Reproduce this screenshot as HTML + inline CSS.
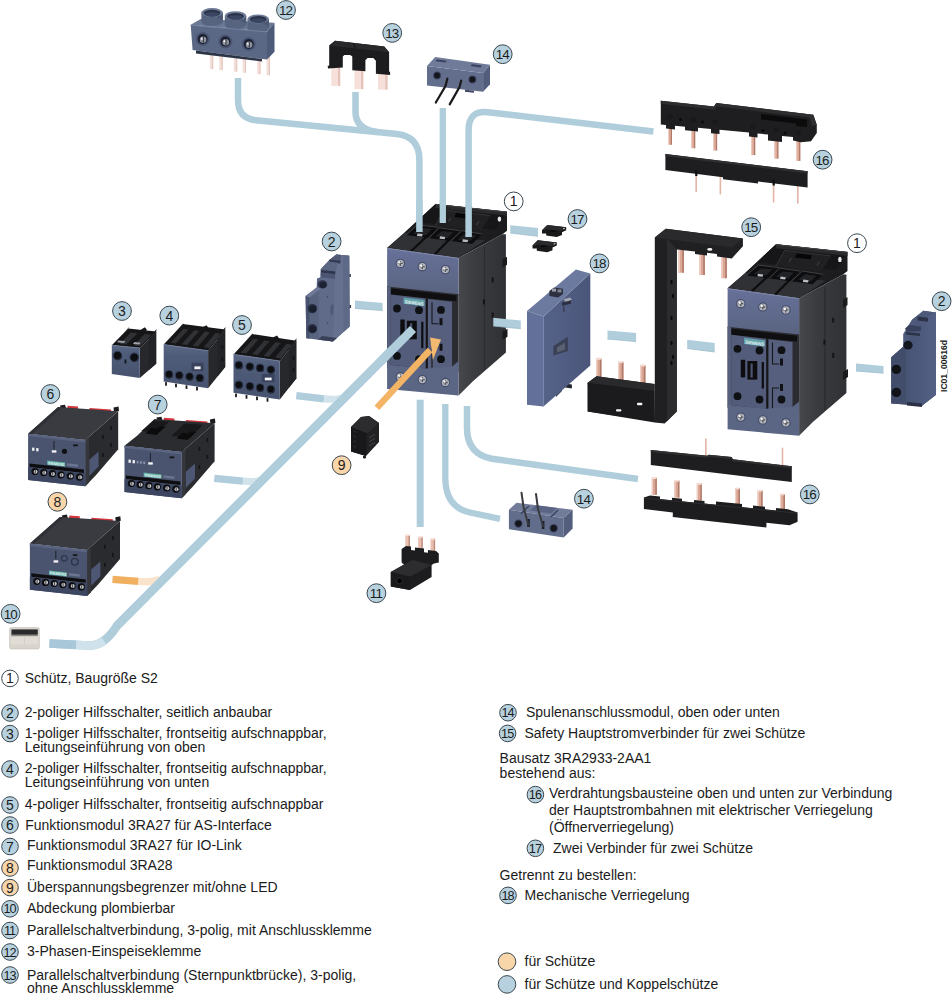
<!DOCTYPE html>
<html lang="de"><head><meta charset="utf-8"><title>Schütz S2 Zubehör</title>
<style>
html,body{margin:0;padding:0;background:#fff;}
svg{display:block;}
svg text{font-family:"Liberation Sans", Arial, sans-serif;}
svg text.lg{font-size:14px;fill:#1b1b1b;}
</style></head><body>
<svg width="952" height="1000" viewBox="0 0 952 1000">
<defs>
<g id="contactor">
<polygon points="727.6,288.3 745.2,272.9 776.0,244.3 847.5,252.0 847.5,271.0 843.0,274.5 799.1,298.2" fill="#1c1c1e" />
<polygon points="727.6,288.3 745.2,272.9 826.0,280.5 799.1,298.2" fill="#303135" />
<polyline points="751.5,291.5 768.0,276.0" fill="none" stroke="#0d0d0e" stroke-width="2.2" />
<polyline points="775.0,294.8 791.0,278.5" fill="none" stroke="#0d0d0e" stroke-width="2.2" />
<polygon points="745.2,272.9 757.0,262.0 836.0,270.0 826.0,280.5" fill="#1d1d20" />
<polygon points="757.0,262.0 776.0,244.3 847.5,252.0 836.0,270.0" fill="#161618" />
<polygon points="776.0,244.3 847.5,252.0 847.5,256.0 776.0,248.3" fill="#2a2a2d" />
<polyline points="776.0,244.6 847.5,252.3" fill="none" stroke="#47474b" stroke-width="0.9" />
<polygon points="784.7,250.4 831.0,255.9 821.5,271.0 775.9,265.9" fill="#202023" />
<polyline points="775.9,265.9 784.7,250.4 831.0,255.9" fill="none" stroke="#3a3a3e" stroke-width="0.8" />
<polygon points="796.5,253.4 811.9,255.3 810.4,259.3 795.0,257.4" fill="#060607" />
<polyline points="789.0,262.0 791.5,258.0" fill="none" stroke="#39393d" stroke-width="1.4" />
<polyline points="817.0,265.5 819.5,261.5" fill="none" stroke="#39393d" stroke-width="1.4" />
<polygon points="746.5,275.4 758.2,265.1 778.8,267.6 768.5,278.4" fill="#0d0d0f" />
<polyline points="746.5,275.4 758.2,265.1 778.8,267.6" fill="none" stroke="#404044" stroke-width="1.0" />
<polygon points="753.6,273.7 760.8,268.4 772.3,269.2 766.2,275.5" fill="#222326" />
<polygon points="769.3,278.4 779.6,268.1 800.1,271.0 790.6,281.3" fill="#0d0d0f" />
<polyline points="769.3,278.4 779.6,268.1 800.1,271.0" fill="none" stroke="#404044" stroke-width="1.0" />
<polygon points="776.1,276.8 782.4,271.4 793.9,272.5 788.2,278.4" fill="#222326" />
<polygon points="791.3,281.3 802.4,271.0 822.9,274.4 812.6,284.3" fill="#0d0d0f" />
<polyline points="791.3,281.3 802.4,271.0 822.9,274.4" fill="none" stroke="#404044" stroke-width="1.0" />
<polygon points="798.3,279.8 805.0,274.3 816.6,275.8 810.4,281.4" fill="#222326" />
<polygon points="758.0,273.8 763.2,274.4 762.6,276.8 757.4,276.2" fill="#b9bbc0" />
<polygon points="780.6,276.6 785.8,277.2 785.2,279.6 780.0,279.0" fill="#b9bbc0" />
<polygon points="803.4,279.6 808.6,280.2 808.0,282.6 802.8,282.0" fill="#b9bbc0" />
<ellipse cx="839.9" cy="259.4" rx="1.8" ry="2.7" fill="#e8e8ea" />
<linearGradient id="sideg" x1="0" x2="1" y1="0" y2="0"><stop offset="0" stop-color="#47484c"/><stop offset="0.35" stop-color="#3b3c40"/><stop offset="1" stop-color="#303134"/></linearGradient>
<polygon points="799.1,298.2 843.0,274.5 846.4,274.5 846.4,392.9 813.4,421.5 799.1,435.8" fill="url(#sideg)" />
<polyline points="825.0,287.0 825.0,410.0" fill="none" stroke="#2a2b2e" stroke-width="1.2" />
<rect x="832.2" y="317.7" width="2.0" height="5.0" fill="#151517" />
<rect x="823.4" y="339.7" width="2.0" height="5.0" fill="#151517" />
<rect x="832.2" y="352.9" width="2.0" height="5.0" fill="#151517" />
<polygon points="843.0,300.0 847.5,297.0 847.5,305.0 843.0,308.0" fill="#1a1a1c" />
<polygon points="843.0,372.0 848.0,369.0 848.0,377.0 843.0,380.0" fill="#1a1a1c" />
<linearGradient id="faceg" x1="0" x2="0" y1="0" y2="1"><stop offset="0" stop-color="#67719a"/><stop offset="1" stop-color="#59637f"/></linearGradient>
<polygon points="727.6,288.3 799.1,298.2 799.1,335.8 727.6,328.2" fill="url(#faceg)" />
<polyline points="727.6,288.8 799.1,298.7" fill="none" stroke="#7d87a6" stroke-width="1.0" />
<polygon points="727.6,326.8 799.1,334.5 799.1,412.0 727.6,408.0" fill="#2b2c31" />
<polygon points="731.0,328.6 797.0,335.8 797.0,341.5 731.0,334.8" fill="#0f0f11" />
<polygon points="727.6,326.8 731.2,327.2 731.2,406.0 727.6,406.0" fill="#56607c" />
<polygon points="731.2,334.8 766.1,338.9 766.1,409.0 731.2,405.0" fill="#535d7b" />
<polygon points="768.5,339.2 792.5,342.0 792.5,407.0 768.5,409.3" fill="#56607e" />
<polyline points="767.3,339.0 767.3,409.5" fill="none" stroke="#16171a" stroke-width="1.6" />
<polygon points="744.1,337.8 765.0,340.4 765.0,346.6 744.1,344.0" fill="#62a3ab" />
<text x="745" y="343.6" font-family="Liberation Sans, sans-serif" font-weight="bold" font-size="4.6" fill="#e9f4f5" transform="rotate(7 745 343.6)" textLength="19" lengthAdjust="spacingAndGlyphs">SIEMENS</text>
<circle cx="737.5" cy="348.8" r="3.9" fill="#101114" />
<circle cx="759.5" cy="350.5" r="3.9" fill="#101114" />
<circle cx="737.5" cy="396.2" r="3.9" fill="#101114" />
<circle cx="759.5" cy="399.5" r="3.9" fill="#101114" />
<circle cx="781.5" cy="350.2" r="3.9" fill="#101114" />
<circle cx="781.5" cy="399.5" r="3.9" fill="#101114" />
<rect x="740.8" y="359.8" width="4.4" height="17.6" fill="#0d0d0f" />
<rect x="747.4" y="361.0" width="9.9" height="18.6" fill="#0d0d0f" />
<rect x="750.5" y="363.5" width="2.2" height="14.0" fill="#4a5370" />
<rect x="761.7" y="362.0" width="2.2" height="26.5" fill="#0d0d0f" />
<path d="M772.5 342.5 V364 H779" fill="none" stroke="#15161a" stroke-width="1.1" />
<rect x="780.0" y="358.5" width="3.0" height="7.0" fill="#111216" />
<path d="M772.5 408 V388 H779" fill="none" stroke="#15161a" stroke-width="1.1" />
<rect x="780.0" y="384.0" width="3.0" height="7.0" fill="#111216" />
<polygon points="727.6,404.7 766.1,408.7 793.0,406.6 799.1,401.4 799.1,435.8 727.6,429.2" fill="#5b6584" />
<circle cx="740.8" cy="303.7" r="4.7" fill="#434b67" />
<circle cx="740.8" cy="303.7" r="3.6" fill="#b4b6bd" />
<path d="M738.3 303.7 L743.3 303.7 M740.8 301.2 L740.8 306.2" stroke="#55585f" stroke-width="1.3" fill="none"/>
<circle cx="739.8" cy="302.7" r="1.2" fill="#f4f4f4" />
<circle cx="762.8" cy="307.0" r="4.7" fill="#434b67" />
<circle cx="762.8" cy="307.0" r="3.6" fill="#b4b6bd" />
<path d="M760.3 307.0 L765.3 307.0 M762.8 304.5 L762.8 309.5" stroke="#55585f" stroke-width="1.3" fill="none"/>
<circle cx="761.8" cy="306.0" r="1.2" fill="#f4f4f4" />
<circle cx="785.9" cy="309.9" r="4.7" fill="#434b67" />
<circle cx="785.9" cy="309.9" r="3.6" fill="#b4b6bd" />
<path d="M783.4 309.9 L788.4 309.9 M785.9 307.4 L785.9 312.4" stroke="#55585f" stroke-width="1.3" fill="none"/>
<circle cx="784.9" cy="308.9" r="1.2" fill="#f4f4f4" />
<circle cx="740.8" cy="417.1" r="4.7" fill="#434b67" />
<circle cx="740.8" cy="417.1" r="3.6" fill="#b4b6bd" />
<path d="M738.3 417.1 L743.3 417.1 M740.8 414.6 L740.8 419.6" stroke="#55585f" stroke-width="1.3" fill="none"/>
<circle cx="739.8" cy="416.1" r="1.2" fill="#f4f4f4" />
<circle cx="762.8" cy="419.9" r="4.7" fill="#434b67" />
<circle cx="762.8" cy="419.9" r="3.6" fill="#b4b6bd" />
<path d="M760.3 419.9 L765.3 419.9 M762.8 417.4 L762.8 422.4" stroke="#55585f" stroke-width="1.3" fill="none"/>
<circle cx="761.8" cy="418.9" r="1.2" fill="#f4f4f4" />
<circle cx="785.9" cy="422.8" r="4.7" fill="#434b67" />
<circle cx="785.9" cy="422.8" r="3.6" fill="#b4b6bd" />
<path d="M783.4 422.8 L788.4 422.8 M785.9 420.3 L785.9 425.3" stroke="#55585f" stroke-width="1.3" fill="none"/>
<circle cx="784.9" cy="421.8" r="1.2" fill="#f4f4f4" />
</g>
</defs>
<path d="M238,78 L238,100 Q238,118.5 256,120.2 L397,134 Q419.4,136.5 419.4,160 L419.4,232" fill="none" stroke="#afcddb" stroke-width="6.5" stroke-linejoin="round" />
<path d="M355.5,92 L355.5,112 Q355.5,129 377,132" fill="none" stroke="#afcddb" stroke-width="6.5" stroke-linejoin="round" />
<path d="M442.8,108 L442.8,223" fill="none" stroke="#afcddb" stroke-width="6.3" stroke-linejoin="round" />
<path d="M468.6,237 L468.6,130 Q468.6,110 488,112.2 L653.4,131.4" fill="none" stroke="#afcddb" stroke-width="6.5" stroke-linejoin="round" />
<path d="M420.2,399.7 L420.2,527" fill="none" stroke="#afcddb" stroke-width="7.0" stroke-linejoin="round" />
<path d="M445.3,404 L445.3,478 Q445.3,507 470,512.5 L500,518.8" fill="none" stroke="#afcddb" stroke-width="6.3" stroke-linejoin="round" />
<path d="M467,406 L467,428 Q467,454 492,458.8 L638,479" fill="none" stroke="#afcddb" stroke-width="6.5" stroke-linejoin="round" />
<path d="M49.5,643.5 L88,645.5 Q104,646.5 117,625.7 L413,329" fill="none" stroke="#afcddb" stroke-width="8.6" stroke-linejoin="round" />
<path d="M76,644.9 L88,645.5 Q97,646 104,641" fill="none" stroke="#cfe1ea" stroke-width="8.6" />
<path d="M49.5,643.5 L76,644.9" fill="none" stroke="#a8c7d8" stroke-width="8.6" />
<path d="M214.3,478.3 L243,481.2" fill="none" stroke="#afcddb" stroke-width="7.2" stroke-linejoin="round" />
<path d="M243,481.2 Q256,482.5 263,479.5" fill="none" stroke="#d2e3eb" stroke-width="7.2" stroke-linejoin="round" />
<path d="M296.3,395.7 L324,398.8" fill="none" stroke="#afcddb" stroke-width="7.2" stroke-linejoin="round" />
<path d="M324,398.8 Q338,400.2 345,397.2" fill="none" stroke="#d2e3eb" stroke-width="7.2" stroke-linejoin="round" />
<path d="M112.5,579.4 L138.5,581.4" fill="none" stroke="#f1b060" stroke-width="7.4" stroke-linejoin="round" />
<path d="M138.5,581.4 Q152,582.6 160,579.5" fill="none" stroke="#f9e3cb" stroke-width="7.4" stroke-linejoin="round" />
<path d="M117,625.7 L413,329" fill="none" stroke="#afcddb" stroke-width="8.6" stroke-linejoin="round" />
<polygon points="355.0,300.6 382.6,303.0 382.6,310.5 355.0,308.5" fill="#afcddb" />
<polyline points="355.0,308.5 382.6,310.5" fill="none" stroke="#9dbccb" stroke-width="0.8" />
<polygon points="510.3,225.3 538.0,228.0 538.0,236.3 510.3,233.0" fill="#afcddb" />
<polyline points="510.3,233.0 538.0,236.3" fill="none" stroke="#9dbccb" stroke-width="0.8" />
<polygon points="607.5,330.6 636.1,333.0 636.1,341.6 607.5,339.0" fill="#afcddb" />
<polyline points="607.5,339.0 636.1,341.6" fill="none" stroke="#9dbccb" stroke-width="0.8" />
<polygon points="687.2,339.8 714.7,343.0 714.7,352.0 687.2,348.5" fill="#afcddb" />
<polyline points="687.2,348.5 714.7,352.0" fill="none" stroke="#9dbccb" stroke-width="0.8" />
<polygon points="856.0,363.6 883.5,366.0 883.5,373.2 856.0,371.0" fill="#afcddb" />
<polyline points="856.0,371.0 883.5,373.2" fill="none" stroke="#9dbccb" stroke-width="0.8" />
<rect x="209.8" y="50.1" width="3.4" height="19.0" fill="#f3dfd9" />
<rect x="212.2" y="50.1" width="1.0" height="19.0" fill="#e3c3ba" />
<rect x="219.3" y="51.2" width="3.4" height="18.9" fill="#f3dfd9" />
<rect x="221.7" y="51.2" width="1.0" height="18.9" fill="#e3c3ba" />
<rect x="233.8" y="52.9" width="3.4" height="18.8" fill="#f3dfd9" />
<rect x="236.2" y="52.9" width="1.0" height="18.8" fill="#e3c3ba" />
<rect x="242.6" y="54.0" width="3.4" height="18.7" fill="#f3dfd9" />
<rect x="245.0" y="54.0" width="1.0" height="18.7" fill="#e3c3ba" />
<rect x="257.1" y="55.7" width="3.4" height="18.5" fill="#f3dfd9" />
<rect x="259.5" y="55.7" width="1.0" height="18.5" fill="#e3c3ba" />
<rect x="266.5" y="56.9" width="3.4" height="18.4" fill="#f3dfd9" />
<rect x="268.9" y="56.9" width="1.0" height="18.4" fill="#e3c3ba" />
<polygon points="190.7,24.8 200.8,18.9 274.5,22.7 267.0,31.5" fill="#6a7893" />
<polygon points="201.4,12.6 222.8,12.6 222.8,21.6 201.4,21.6" fill="#57647f" />
<polygon points="217.1,12.6 222.8,12.6 222.8,21.6 217.1,21.6" fill="#4b5773" />
<ellipse cx="212.1" cy="21.6" rx="10.7" ry="4.4" fill="#57647f" />
<ellipse cx="212.1" cy="12.6" rx="10.7" ry="4.5" fill="#6e7b97" />
<ellipse cx="212.1" cy="13.1" rx="8.4" ry="3.3" fill="#2b3449" />
<ellipse cx="212.1" cy="14.2" rx="7.2" ry="2.2" fill="#3a4561" />
<polygon points="224.8,15.8 246.2,15.8 246.2,24.8 224.8,24.8" fill="#57647f" />
<polygon points="240.5,15.8 246.2,15.8 246.2,24.8 240.5,24.8" fill="#4b5773" />
<ellipse cx="235.5" cy="24.8" rx="10.7" ry="4.4" fill="#57647f" />
<ellipse cx="235.5" cy="15.8" rx="10.7" ry="4.5" fill="#6e7b97" />
<ellipse cx="235.5" cy="16.3" rx="8.4" ry="3.3" fill="#2b3449" />
<ellipse cx="235.5" cy="17.4" rx="7.2" ry="2.2" fill="#3a4561" />
<polygon points="247.5,18.9 268.9,18.9 268.9,27.9 247.5,27.9" fill="#57647f" />
<polygon points="263.2,18.9 268.9,18.9 268.9,27.9 263.2,27.9" fill="#4b5773" />
<ellipse cx="258.2" cy="27.9" rx="10.7" ry="4.4" fill="#57647f" />
<ellipse cx="258.2" cy="18.9" rx="10.7" ry="4.5" fill="#6e7b97" />
<ellipse cx="258.2" cy="19.4" rx="8.4" ry="3.3" fill="#2b3449" />
<ellipse cx="258.2" cy="20.5" rx="7.2" ry="2.2" fill="#3a4561" />
<polygon points="190.7,24.8 267.0,31.5 267.0,59.6 192.6,50.0" fill="#5a6885" />
<polyline points="190.7,25.2 267.0,31.9" fill="none" stroke="#7280a0" stroke-width="1.0" />
<polygon points="267.0,31.5 274.5,22.7 274.5,51.7 267.0,59.6" fill="#4e5b78" />
<polygon points="196.0,50.6 262.0,59.0 262.0,61.5 196.0,53.5" fill="#2c3447" />
<circle cx="202.7" cy="39.1" r="7.0" fill="#4a5674" />
<circle cx="202.7" cy="39.1" r="5.0" fill="#1a2030" />
<circle cx="203.1" cy="39.7" r="3.3" fill="#8f939f" />
<circle cx="202.1" cy="38.8" r="1.3" fill="#e8e9ee" />
<polyline points="203.3,36.5 203.3,42.7" fill="none" stroke="#30343f" stroke-width="1.1" />
<circle cx="225.4" cy="41.6" r="7.0" fill="#4a5674" />
<circle cx="225.4" cy="41.6" r="5.0" fill="#1a2030" />
<circle cx="225.8" cy="42.2" r="3.3" fill="#8f939f" />
<circle cx="224.8" cy="41.3" r="1.3" fill="#e8e9ee" />
<polyline points="226.0,39.0 226.0,45.2" fill="none" stroke="#30343f" stroke-width="1.1" />
<circle cx="248.7" cy="44.1" r="7.0" fill="#4a5674" />
<circle cx="248.7" cy="44.1" r="5.0" fill="#1a2030" />
<circle cx="249.1" cy="44.7" r="3.3" fill="#8f939f" />
<circle cx="248.1" cy="43.8" r="1.3" fill="#e8e9ee" />
<polyline points="249.3,41.5 249.3,47.7" fill="none" stroke="#30343f" stroke-width="1.1" />
<rect x="331.3" y="62.0" width="8.9" height="23.9" fill="#f6e0d9" />
<rect x="338.0" y="62.0" width="2.2" height="23.9" fill="#e6c3ba" />
<rect x="354.4" y="65.0" width="8.9" height="24.1" fill="#f6e0d9" />
<rect x="361.1" y="65.0" width="2.2" height="24.1" fill="#e6c3ba" />
<rect x="378.0" y="68.0" width="9.5" height="21.6" fill="#f6e0d9" />
<rect x="385.3" y="68.0" width="2.2" height="21.6" fill="#e6c3ba" />
<polygon points="329.2,45.5 335.0,40.8 384.3,46.5 389.1,52.3 389.1,71.2 390.1,72.3 390.1,74.9 375.9,73.8 375.9,60.7 373.3,58.1 367.5,58.1 365.4,60.2 365.4,71.2 352.3,70.2 352.3,56.5 350.2,54.9 344.4,54.9 342.8,56.5 342.8,67.5 328.1,68.6 327.6,66.0 329.2,65.4" fill="#1c1c1e" />
<polygon points="329.2,45.5 335.0,40.8 384.3,46.5 389.1,52.3 336.0,46.2" fill="#29292c" />
<polyline points="353.5,43.0 355.5,48.5" fill="none" stroke="#0a0a0a" stroke-width="0.8" />
<polygon points="427.0,65.9 483.1,72.9 483.1,91.8 427.0,85.5" fill="#636e8d" />
<polygon points="427.0,65.9 435.2,57.1 490.0,64.7 483.1,72.9" fill="#707b99" />
<polygon points="483.1,72.9 490.0,64.7 490.0,84.2 483.1,91.8" fill="#525c7b" />
<polygon points="437.0,59.5 447.0,60.8 445.5,62.6 435.5,61.3" fill="#3a4260" />
<polygon points="472.0,64.3 482.0,65.6 480.5,67.4 470.5,66.1" fill="#3a4260" />
<circle cx="437.1" cy="75.4" r="4.0" fill="#3b4360" />
<circle cx="437.1" cy="75.4" r="2.9" fill="#14161c" />
<circle cx="472.4" cy="79.4" r="4.0" fill="#3b4360" />
<circle cx="472.4" cy="79.4" r="2.9" fill="#14161c" />
<polygon points="465.0,89.8 474.0,90.8 474.0,92.8 465.0,91.8" fill="#3c4562" />
<path d="M447.4 78.5 L445.5 86 L435.8 102.5" fill="none" stroke="#1a1a1c" stroke-width="2.2" stroke-linecap="round"/>
<path d="M461.2 80.5 L459.5 87 L449.7 104.4" fill="none" stroke="#1a1a1c" stroke-width="2.2" stroke-linecap="round"/>
<rect x="668.0" y="114.7" width="4.0" height="30.0" fill="#dba796" />
<rect x="670.8" y="114.7" width="1.2" height="30.0" fill="#b07a6a" />
<rect x="668.0" y="114.7" width="1.0" height="30.0" fill="#f0cfc4" />
<rect x="691.2" y="118.2" width="4.0" height="30.0" fill="#dba796" />
<rect x="694.0" y="118.2" width="1.2" height="30.0" fill="#b07a6a" />
<rect x="691.2" y="118.2" width="1.0" height="30.0" fill="#f0cfc4" />
<rect x="713.1" y="120.5" width="4.0" height="30.0" fill="#dba796" />
<rect x="715.9" y="120.5" width="1.2" height="30.0" fill="#b07a6a" />
<rect x="713.1" y="120.5" width="1.0" height="30.0" fill="#f0cfc4" />
<rect x="751.2" y="125.1" width="4.0" height="30.0" fill="#dba796" />
<rect x="754.0" y="125.1" width="1.2" height="30.0" fill="#b07a6a" />
<rect x="751.2" y="125.1" width="1.0" height="30.0" fill="#f0cfc4" />
<rect x="774.4" y="128.6" width="4.0" height="30.0" fill="#dba796" />
<rect x="777.2" y="128.6" width="1.2" height="30.0" fill="#b07a6a" />
<rect x="774.4" y="128.6" width="1.0" height="30.0" fill="#f0cfc4" />
<rect x="796.3" y="130.9" width="4.0" height="30.0" fill="#dba796" />
<rect x="799.1" y="130.9" width="1.2" height="30.0" fill="#b07a6a" />
<rect x="796.3" y="130.9" width="1.0" height="30.0" fill="#f0cfc4" />
<polygon points="660.8,100.8 713.9,106.6 716.3,103.1 813.3,114.7 816.8,125.0 816.8,133.0 811.0,141.2 801.0,142.2 793.0,140.5 793.0,137.0 782.0,136.0 782.0,142.0 768.0,140.6 768.0,134.5 757.5,133.5 757.5,137.5 749.0,136.6 749.0,132.6 719.5,129.8 719.5,134.0 711.0,133.2 711.0,129.0 698.0,127.8 698.0,131.5 685.0,130.2 685.0,126.7 675.0,125.7 675.0,129.5 666.0,128.6 666.0,125.0 660.8,124.5" fill="#1e1e20" />
<polygon points="660.8,100.8 713.9,106.6 716.3,103.1 813.3,114.7 816.8,125.0 812.0,126.0 809.5,117.5 716.5,106.5 714.5,109.8 660.8,103.8" fill="#2e2e31" />
<polygon points="761.0,114.0 807.0,119.5 807.0,127.0 796.0,126.0 796.0,123.5 761.0,119.5" fill="#0b0b0c" />
<circle cx="680.5" cy="119.5" r="1.5" fill="#0a0a0b" />
<circle cx="702.5" cy="122.0" r="1.5" fill="#0a0a0b" />
<circle cx="763.0" cy="130.5" r="1.5" fill="#0a0a0b" />
<circle cx="785.0" cy="133.0" r="1.5" fill="#0a0a0b" />
<rect x="667.4" y="114.2" width="5.2" height="4.5" fill="#19191b" rx="1.5"/>
<rect x="690.6" y="117.7" width="5.2" height="4.5" fill="#19191b" rx="1.5"/>
<rect x="712.5" y="120.0" width="5.2" height="4.5" fill="#19191b" rx="1.5"/>
<rect x="750.6" y="124.6" width="5.2" height="4.5" fill="#19191b" rx="1.5"/>
<rect x="773.8" y="128.1" width="5.2" height="4.5" fill="#19191b" rx="1.5"/>
<rect x="795.7" y="130.4" width="5.2" height="4.5" fill="#19191b" rx="1.5"/>
<rect x="695.4" y="173.0" width="1.6" height="19.0" fill="#e3b5a6" />
<rect x="719.6" y="176.0" width="1.6" height="18.4" fill="#e3b5a6" />
<rect x="772.8" y="183.0" width="1.6" height="19.5" fill="#e3b5a6" />
<rect x="797.0" y="186.0" width="1.6" height="17.6" fill="#e3b5a6" />
<polygon points="665.4,154.0 807.6,171.3 807.6,187.5 758.0,181.5 758.0,183.5 723.0,179.2 723.0,177.2 665.4,170.0" fill="#1e1e20" />
<polygon points="665.4,154.0 807.6,171.3 807.6,173.5 665.4,156.2" fill="#2f2f32" />
<rect x="695.2" y="170.0" width="2.2" height="6.0" fill="#111112" />
<rect x="772.6" y="179.5" width="2.2" height="6.0" fill="#111112" />
<polygon points="542.0,230.2 547.3,225.0 566.2,227.3 566.2,230.2 562.0,232.3 562.0,235.0 556.7,237.0 546.2,235.5 546.2,233.4 542.0,233.4" fill="#19191b" />
<polygon points="542.0,230.2 547.3,225.0 566.2,227.3 562.0,231.0 557.0,230.4 555.0,232.2 549.0,231.5 550.0,229.8 546.0,229.3 545.0,230.6" fill="#2a2a2d" />
<polygon points="549.0,231.5 555.0,232.2 557.0,230.4 551.0,229.8" fill="#0b0b0c" />
<rect x="563.2" y="228.0" width="1.6" height="1.2" fill="#cfcfd2" />
<polygon points="532.5,245.4 537.8,240.2 556.8,242.5 556.8,245.4 552.5,247.5 552.5,250.2 547.2,252.2 536.8,250.7 536.8,248.6 532.5,248.6" fill="#19191b" />
<polygon points="532.5,245.4 537.8,240.2 556.8,242.5 552.5,246.2 547.5,245.6 545.5,247.4 539.5,246.7 540.5,245.0 536.5,244.5 535.5,245.8" fill="#2a2a2d" />
<polygon points="539.5,246.7 545.5,247.4 547.5,245.6 541.5,245.0" fill="#0b0b0c" />
<rect x="553.8" y="243.2" width="1.6" height="1.2" fill="#cfcfd2" />
<linearGradient id="g18" x1="0" x2="1" y1="0" y2="0"><stop offset="0" stop-color="#566389"/><stop offset="1" stop-color="#4a5579"/></linearGradient>
<polygon points="562.2,383.1 571.9,384.5 571.9,388.5 562.2,387.1" fill="#22252f" />
<polygon points="556.0,392.0 562.0,386.0 562.0,391.0 556.0,397.0" fill="#3b4258" />
<polygon points="543.5,316.4 590.3,273.4 590.3,365.5 543.5,406.5" fill="url(#g18)" />
<polygon points="527.0,311.1 575.9,269.4 590.3,273.4 543.5,316.4" fill="#6c7a9f" />
<polygon points="527.0,311.1 543.5,316.4 543.5,406.5 527.0,404.7" fill="#63719a" />
<polyline points="543.5,316.4 543.5,406.5" fill="none" stroke="#7584aa" stroke-width="0.8" />
<polygon points="549.4,291.0 554.0,287.5 563.0,288.8 563.0,294.0 558.0,297.5 549.4,296.0" fill="#2c3040" />
<rect x="552.0" y="288.6" width="4.0" height="3.0" fill="#9aa0ab" />
<rect x="557.5" y="289.4" width="4.0" height="3.0" fill="#7f8592" />
<polygon points="563.5,299.2 570.0,297.6 572.0,299.4 566.0,302.2" fill="#a3a8b3" />
<polygon points="562.0,302.5 571.0,300.6 571.0,303.8 562.0,305.8" fill="#2c3040" />
<rect x="563.0" y="306.0" width="1.5" height="6.0" fill="#3b4258" />
<polygon points="553.4,346.0 567.9,336.7 567.9,351.0 553.4,355.5" fill="#3a4156" />
<polygon points="557.0,347.5 565.0,342.5 565.0,349.5 557.0,352.5" fill="#596072" />
<rect x="678.5" y="250.0" width="5.5" height="22.7" fill="#dba796" />
<rect x="682.3" y="250.0" width="1.6" height="22.7" fill="#b07a6a" />
<rect x="678.5" y="250.0" width="1.4" height="22.7" fill="#f0cfc4" />
<rect x="699.4" y="250.0" width="5.5" height="25.0" fill="#dba796" />
<rect x="703.2" y="250.0" width="1.6" height="25.0" fill="#b07a6a" />
<rect x="699.4" y="250.0" width="1.4" height="25.0" fill="#f0cfc4" />
<rect x="721.4" y="250.0" width="5.5" height="28.2" fill="#dba796" />
<rect x="725.2" y="250.0" width="1.6" height="28.2" fill="#b07a6a" />
<rect x="721.4" y="250.0" width="1.4" height="28.2" fill="#f0cfc4" />
<rect x="596.0" y="358.5" width="5.5" height="23.5" fill="#dba796" />
<rect x="599.8" y="358.5" width="1.6" height="23.5" fill="#b07a6a" />
<rect x="596.0" y="358.5" width="1.4" height="23.5" fill="#f0cfc4" />
<ellipse cx="598.7" cy="358.8" rx="2.7" ry="1.2" fill="#f4dcd4" />
<rect x="618.0" y="361.8" width="5.5" height="23.2" fill="#dba796" />
<rect x="621.8" y="361.8" width="1.6" height="23.2" fill="#b07a6a" />
<rect x="618.0" y="361.8" width="1.4" height="23.2" fill="#f0cfc4" />
<ellipse cx="620.7" cy="362.1" rx="2.7" ry="1.2" fill="#f4dcd4" />
<rect x="640.0" y="365.1" width="5.5" height="22.9" fill="#dba796" />
<rect x="643.8" y="365.1" width="1.6" height="22.9" fill="#b07a6a" />
<rect x="640.0" y="365.1" width="1.4" height="22.9" fill="#f0cfc4" />
<ellipse cx="642.7" cy="365.4" rx="2.7" ry="1.2" fill="#f4dcd4" />
<polygon points="654.8,237.5 665.8,228.7 742.9,238.6 742.9,246.3 731.8,258.4 717.0,256.6 717.0,254.0 707.0,252.8 707.0,255.4 695.0,254.0 695.0,251.5 676.8,249.5 676.8,411.4 664.7,423.5 654.8,422.4" fill="#202022" />
<polygon points="654.8,237.5 665.8,228.7 742.9,238.6 731.8,247.4" fill="#2a2a2d" />
<polygon points="667.0,238.8 676.8,249.5 676.8,411.4 667.0,421.2" fill="#2c2c2f" />
<ellipse cx="709.8" cy="249.4" rx="2.6" ry="1.4" fill="#f2f2f2" />
<ellipse cx="671.5" cy="282.0" rx="1.1" ry="2.2" fill="#0a0a0b" />
<ellipse cx="673.0" cy="296.0" rx="1.1" ry="2.2" fill="#0a0a0b" />
<ellipse cx="671.5" cy="318.0" rx="1.1" ry="2.2" fill="#0a0a0b" />
<ellipse cx="671.5" cy="343.0" rx="1.1" ry="2.2" fill="#0a0a0b" />
<ellipse cx="673.0" cy="357.0" rx="1.1" ry="2.2" fill="#0a0a0b" />
<ellipse cx="671.5" cy="363.0" rx="1.1" ry="2.2" fill="#0a0a0b" />
<polygon points="587.7,382.8 596.5,376.2 653.7,383.9 654.8,422.4 653.7,421.3 587.7,411.4" fill="#1e1e20" />
<polygon points="587.7,382.8 596.5,376.2 654.8,383.9 654.8,391.0 587.7,384.5" fill="#2a2a2d" />
<polygon points="587.7,382.8 654.8,391.0 654.8,422.4 587.7,411.4" fill="#1b1b1d" />
<rect x="616.0" y="409.2" width="5.4" height="2.4" fill="#f4f4f4" rx="1"/>
<rect x="637.0" y="402.8" width="5.4" height="2.4" fill="#f4f4f4" rx="1"/>
<use href="#contactor" transform="translate(-340.5,-40.3)"/>
<use href="#contactor"/>
<polygon points="336.2,254.5 349.2,255.8 349.6,326.6 332.9,341.6 306.3,338.3 305.6,296.1 316.7,287.6 317.0,278.5 320.6,277.2 320.6,269.2 329.0,260.3" fill="#58637f" />
<polygon points="336.2,254.5 349.2,255.8 349.6,326.6 332.9,341.6 333.8,300.0 334.5,277.0 337.0,262.0" fill="#66718f" />
<polygon points="343.0,255.2 349.2,255.8 349.6,326.6 343.5,332.0" fill="#5e6987" />
<polygon points="320.6,277.2 334.5,278.8 333.8,300.0 332.9,341.6 318.5,339.8 318.5,292.0" fill="#606b89" />
<polygon points="329.0,260.3 336.2,254.5 341.0,255.0 340.7,263.2 330.0,262.0" fill="#505a77" />
<polygon points="329.6,259.6 340.4,260.8 340.0,263.4 329.2,262.2" fill="#333b52" />
<polygon points="320.6,269.2 328.5,261.5 338.0,262.8 335.5,270.8" fill="#5b6683" />
<polygon points="321.2,270.0 335.5,271.6 335.2,274.2 320.9,272.6" fill="#2f374e" />
<polygon points="320.6,272.8 335.2,274.4 334.8,278.8 320.6,277.2" fill="#4c5673" />
<polygon points="305.6,296.1 316.7,287.6 321.0,288.3 309.5,297.8" fill="#6f7a98" />
<polygon points="305.6,296.1 309.5,297.8 309.5,338.7 306.3,338.3" fill="#4a5470" />
<ellipse cx="322.5" cy="284.4" rx="4.7" ry="4.2" fill="#2c3349" />
<ellipse cx="323.2" cy="284.9" rx="3.3" ry="3.0" fill="#1d2233" />
<ellipse cx="312.3" cy="308.6" rx="4.8" ry="4.7" fill="#2a3046" />
<ellipse cx="312.8" cy="309.0" rx="3.4" ry="3.4" fill="#1a1f2e" />
<ellipse cx="312.3" cy="328.8" rx="4.8" ry="4.7" fill="#2a3046" />
<ellipse cx="312.8" cy="329.2" rx="3.4" ry="3.4" fill="#1a1f2e" />
<polygon points="318.0,339.6 332.9,341.6 337.0,338.0 322.0,336.0" fill="#394159" />
<rect x="349.3" y="274.0" width="1.6" height="3.0" fill="#3a4258" />
<rect x="349.5" y="305.0" width="1.6" height="3.0" fill="#3a4258" />
<polygon points="330.5,306.0 333.5,303.5 333.5,313.0 330.5,315.5" fill="#4f5975" />
<circle cx="327.5" cy="297.0" r="0.8" fill="#3a4258" />
<circle cx="327.5" cy="323.0" r="0.8" fill="#3a4258" />
<polygon points="923.2,310.8 936.0,312.4 936.0,394.8 921.6,406.0 904.8,404.4 891.2,403.6 891.2,357.2 903.2,346.8 903.2,334.0 912.0,319.6" fill="#4f5b7b" />
<polygon points="923.2,310.8 936.0,312.4 936.0,394.8 921.6,406.0 906.0,404.5 906.0,346.0 914.0,332.0" fill="#4d5979" />
<linearGradient id="g2r" x1="0" x2="1" y1="0" y2="0"><stop offset="0" stop-color="#485474"/><stop offset="1" stop-color="#535f84"/></linearGradient>
<polygon points="915.0,322.0 936.0,312.4 936.0,394.8 921.6,406.0 906.0,404.5 906.0,352.0" fill="url(#g2r)" />
<polygon points="917.5,316.5 928.0,317.7 928.0,321.8 917.5,320.6" fill="#2b3349" />
<polygon points="905.0,328.5 909.0,325.0 921.0,326.5 921.0,331.0 907.0,331.5" fill="#38415b" />
<polygon points="906.0,332.0 920.0,333.5 920.0,336.0 906.0,334.5" fill="#2b3349" />
<polygon points="891.2,357.2 903.2,346.8 906.0,347.2 906.0,404.5 891.2,403.6" fill="#424d6b" />
<ellipse cx="908.0" cy="345.2" rx="4.6" ry="4.4" fill="#15181f" />
<ellipse cx="896.4" cy="369.4" rx="4.7" ry="4.7" fill="#111318" />
<ellipse cx="896.4" cy="392.4" rx="4.7" ry="4.7" fill="#111318" />
<polygon points="907.0,402.0 922.0,403.5 922.0,407.0 907.0,405.5" fill="#2a3145" />
<linearGradient id="ga3" x1="0" x2="0" y1="0" y2="1"><stop offset="0" stop-color="#5a6985"/><stop offset="0.25" stop-color="#4f5c79"/><stop offset="1" stop-color="#46526e"/></linearGradient>
<polygon points="139.8,348.0 156.2,331.6 156.2,363.7 139.8,378.0" fill="#27282c" />
<polygon points="148.8,339.0 156.2,331.6 156.2,363.7 148.8,370.1" fill="#222326" />
<polygon points="111.8,345.3 128.2,328.5 156.2,331.6 139.8,348.0" fill="#161618" />
<polygon points="119.6,343.9 130.8,332.5 137.5,333.2 126.4,344.5" fill="#303135" />
<polygon points="133.6,345.2 144.8,334.0 151.5,334.7 140.4,345.9" fill="#303135" />
<polygon points="128.2,328.5 129.7,326.3 124.1,332.7" fill="#161618" />
<polygon points="156.2,331.6 156.5,329.1 153.2,333.1" fill="#161618" />
<polygon points="111.8,345.3 139.8,348.0 139.8,378.0 111.8,373.9" fill="url(#ga3)" />
<polyline points="111.8,345.3 139.8,348.0" fill="none" stroke="#6f7d98" stroke-width="0.9" />
<circle cx="117.7" cy="355.9" r="4.3" fill="#0d0e11" />
<circle cx="117.4" cy="355.4" r="4.3" fill="none" stroke="#323b55" stroke-width="0.8"/>
<circle cx="134.4" cy="357.6" r="4.3" fill="#0d0e11" />
<circle cx="134.1" cy="357.1" r="4.3" fill="none" stroke="#323b55" stroke-width="0.8"/>
<rect x="124.6" y="359.5" width="1.8" height="4.0" fill="#14161d" />
<polygon points="118.5,340.5 125.5,341.2 124.0,343.0 117.0,342.3" fill="#9ea3ad" />
<polygon points="134.5,342.0 140.5,342.7 139.5,344.6 133.0,343.9" fill="#9ea3ad" />
<polygon points="141.0,329.5 145.0,327.3 147.0,330.0 143.0,332.3" fill="#161618" />
<linearGradient id="ga4" x1="0" x2="0" y1="0" y2="1"><stop offset="0" stop-color="#5a6985"/><stop offset="0.25" stop-color="#4f5c79"/><stop offset="1" stop-color="#46526e"/></linearGradient>
<polygon points="208.1,350.7 225.2,329.6 225.2,367.1 208.1,388.3" fill="#27282c" />
<polygon points="217.5,339.1 225.2,329.6 225.2,367.1 217.5,376.6" fill="#222326" />
<polygon points="163.7,344.6 182.8,324.1 225.2,329.6 208.1,350.7" fill="#161618" />
<polygon points="170.6,342.8 183.5,328.8 188.6,329.5 175.9,343.5" fill="#303135" />
<polygon points="181.7,344.3 194.2,330.2 199.3,330.9 187.0,345.0" fill="#303135" />
<polygon points="192.7,345.8 204.9,331.6 210.0,332.3 198.0,346.5" fill="#303135" />
<polygon points="203.7,347.3 215.6,333.0 220.7,333.7 209.0,348.0" fill="#303135" />
<polygon points="182.8,324.1 184.3,321.9 178.0,329.2" fill="#161618" />
<polygon points="225.2,329.6 225.5,327.1 222.2,331.1" fill="#161618" />
<polygon points="163.7,344.6 208.1,350.7 208.1,388.3 163.7,381.4" fill="url(#ga4)" />
<polyline points="163.7,344.6 208.1,350.7" fill="none" stroke="#6f7d98" stroke-width="0.9" />
<circle cx="169.2" cy="374.6" r="3.9" fill="#0d0e11" />
<circle cx="168.9" cy="374.1" r="3.9" fill="none" stroke="#323b55" stroke-width="0.8"/>
<circle cx="179.4" cy="375.6" r="3.9" fill="#0d0e11" />
<circle cx="179.1" cy="375.1" r="3.9" fill="none" stroke="#323b55" stroke-width="0.8"/>
<circle cx="189.7" cy="376.8" r="3.9" fill="#0d0e11" />
<circle cx="189.4" cy="376.3" r="3.9" fill="none" stroke="#323b55" stroke-width="0.8"/>
<circle cx="199.9" cy="378.2" r="3.9" fill="#0d0e11" />
<circle cx="199.6" cy="377.7" r="3.9" fill="none" stroke="#323b55" stroke-width="0.8"/>
<rect x="191.4" y="362.8" width="12.2" height="8.4" fill="#39435e" />
<rect x="194.4" y="366.4" width="6.2" height="2.8" fill="#f4f4f4" />
<rect x="165.1" y="382.1" width="1.8" height="3.6" fill="#18181a" />
<rect x="175.1" y="383.7" width="1.8" height="3.6" fill="#18181a" />
<rect x="185.6" y="385.3" width="1.8" height="3.6" fill="#18181a" />
<rect x="196.1" y="386.9" width="1.8" height="3.6" fill="#18181a" />
<polygon points="202.5,327.2 206.5,325.2 208.5,328.0 204.5,330.0" fill="#161618" />
<rect x="221.5" y="345.0" width="1.6" height="4.0" fill="#121214" />
<rect x="221.5" y="357.0" width="1.6" height="4.0" fill="#121214" />
<linearGradient id="ga5" x1="0" x2="0" y1="0" y2="1"><stop offset="0" stop-color="#5a6985"/><stop offset="0.25" stop-color="#4f5c79"/><stop offset="1" stop-color="#46526e"/></linearGradient>
<polygon points="279.8,361.0 296.3,340.7 296.3,378.4 279.8,399.4" fill="#27282c" />
<polygon points="288.9,349.8 296.3,340.7 296.3,378.4 288.9,387.8" fill="#222326" />
<polygon points="233.5,354.4 252.2,334.1 296.3,340.7 279.8,361.0" fill="#161618" />
<polygon points="240.6,352.7 253.1,338.9 258.5,339.6 246.1,353.4" fill="#303135" />
<polygon points="252.1,354.3 264.3,340.5 269.6,341.3 257.6,355.1" fill="#303135" />
<polygon points="263.6,356.0 275.4,342.2 280.8,342.9 269.1,356.7" fill="#303135" />
<polygon points="275.1,357.6 286.5,343.8 291.9,344.6 280.6,358.4" fill="#303135" />
<polygon points="252.2,334.1 253.7,331.9 247.5,339.2" fill="#161618" />
<polygon points="296.3,340.7 296.6,338.2 293.3,342.2" fill="#161618" />
<polygon points="233.5,354.4 279.8,361.0 279.8,399.4 233.5,392.8" fill="url(#ga5)" />
<polyline points="233.5,354.4 279.8,361.0" fill="none" stroke="#6f7d98" stroke-width="0.9" />
<circle cx="239.0" cy="365.4" r="3.9" fill="#0d0e11" />
<circle cx="238.7" cy="364.9" r="3.9" fill="none" stroke="#323b55" stroke-width="0.8"/>
<circle cx="250.0" cy="366.8" r="3.9" fill="#0d0e11" />
<circle cx="249.7" cy="366.3" r="3.9" fill="none" stroke="#323b55" stroke-width="0.8"/>
<circle cx="260.2" cy="368.2" r="3.9" fill="#0d0e11" />
<circle cx="259.9" cy="367.7" r="3.9" fill="none" stroke="#323b55" stroke-width="0.8"/>
<circle cx="271.0" cy="369.8" r="3.9" fill="#0d0e11" />
<circle cx="270.7" cy="369.3" r="3.9" fill="none" stroke="#323b55" stroke-width="0.8"/>
<circle cx="239.0" cy="385.1" r="3.9" fill="#0d0e11" />
<circle cx="238.7" cy="384.6" r="3.9" fill="none" stroke="#323b55" stroke-width="0.8"/>
<circle cx="250.0" cy="386.5" r="3.9" fill="#0d0e11" />
<circle cx="249.7" cy="386.0" r="3.9" fill="none" stroke="#323b55" stroke-width="0.8"/>
<circle cx="260.2" cy="387.9" r="3.9" fill="#0d0e11" />
<circle cx="259.9" cy="387.4" r="3.9" fill="none" stroke="#323b55" stroke-width="0.8"/>
<circle cx="271.0" cy="389.5" r="3.9" fill="#0d0e11" />
<circle cx="270.7" cy="389.0" r="3.9" fill="none" stroke="#323b55" stroke-width="0.8"/>
<rect x="261.8" y="374.0" width="12.8" height="8.3" fill="#39435e" />
<rect x="264.8" y="377.6" width="6.8" height="2.7" fill="#f4f4f4" />
<rect x="235.1" y="393.6" width="1.8" height="3.6" fill="#18181a" />
<rect x="245.6" y="395.1" width="1.8" height="3.6" fill="#18181a" />
<rect x="256.1" y="396.6" width="1.8" height="3.6" fill="#18181a" />
<rect x="266.6" y="398.1" width="1.8" height="3.6" fill="#18181a" />
<polygon points="273.0,337.5 277.0,335.5 279.0,338.3 275.0,340.3" fill="#161618" />
<rect x="292.6" y="356.0" width="1.6" height="4.0" fill="#121214" />
<rect x="292.6" y="368.0" width="1.6" height="4.0" fill="#121214" />
<polygon points="67.5,405.8 78.0,406.5 78.0,410.5 67.5,409.8" fill="#d5363c" />
<polygon points="89.5,408.0 111.0,409.4 111.0,413.0 89.5,411.6" fill="#d5363c" />
<polygon points="60.0,405.6 65.0,404.8 66.0,408.0 61.0,408.8" fill="#1b1b1d" />
<polygon points="113.5,407.5 118.5,406.5 119.0,411.0 114.0,412.0" fill="#1b1b1d" />
<polygon points="85.3,440.1 118.2,411.2 118.2,449.3 96.3,474.7 85.3,486.3" fill="#2a2b2f" />
<polygon points="89.3,459.7 98.6,451.6 98.6,466.6 89.3,475.9" fill="#4d5672" />
<polygon points="85.3,440.1 89.0,437.0 89.0,482.5 85.3,486.3" fill="#35373d" />
<rect x="102.2" y="435.0" width="1.6" height="4.0" fill="#141416" />
<rect x="102.2" y="453.0" width="1.6" height="4.0" fill="#141416" />
<rect x="110.2" y="426.0" width="1.6" height="4.0" fill="#141416" />
<rect x="110.2" y="443.0" width="1.6" height="4.0" fill="#141416" />
<polygon points="28.1,433.7 58.1,407.1 118.2,411.2 85.3,440.1" fill="#393b40" />
<polygon points="28.1,433.7 58.1,407.1 62.0,407.4 32.0,434.1" fill="#2e3035" />
<polygon points="28.1,433.7 85.3,440.1 85.3,486.3 28.1,479.9" fill="#4a546f" />
<polygon points="28.1,433.7 85.3,440.1 85.3,442.5 28.1,436.1" fill="#5a6480" />
<polygon points="29.5,463.5 84.0,469.6 84.0,473.0 29.5,466.9" fill="#0e0e10" />
<polygon points="28.1,467.0 85.3,473.4 85.3,486.3 28.1,479.9" fill="#3d4660" />
<circle cx="35.0" cy="471.5" r="3.6" fill="#0d0d0f" />
<circle cx="35.6" cy="471.7" r="2.0" fill="#c5c7cc" />
<rect x="34.8" y="469.9" width="1.0" height="3.4" fill="#44474f" />
<circle cx="43.7" cy="472.6" r="3.6" fill="#0d0d0f" />
<circle cx="44.3" cy="472.8" r="2.0" fill="#c5c7cc" />
<rect x="43.5" y="471.0" width="1.0" height="3.4" fill="#44474f" />
<circle cx="52.4" cy="473.7" r="3.6" fill="#0d0d0f" />
<circle cx="53.0" cy="473.9" r="2.0" fill="#c5c7cc" />
<rect x="52.2" y="472.1" width="1.0" height="3.4" fill="#44474f" />
<circle cx="61.0" cy="474.8" r="3.6" fill="#0d0d0f" />
<circle cx="61.6" cy="475.0" r="2.0" fill="#c5c7cc" />
<rect x="60.8" y="473.2" width="1.0" height="3.4" fill="#44474f" />
<circle cx="70.3" cy="476.0" r="3.6" fill="#0d0d0f" />
<circle cx="70.9" cy="476.2" r="2.0" fill="#c5c7cc" />
<rect x="70.1" y="474.4" width="1.0" height="3.4" fill="#44474f" />
<circle cx="79.5" cy="477.1" r="3.6" fill="#0d0d0f" />
<circle cx="80.1" cy="477.3" r="2.0" fill="#c5c7cc" />
<rect x="79.3" y="475.5" width="1.0" height="3.4" fill="#44474f" />
<polygon points="47.2,460.6 65.1,462.6 65.1,466.6 47.2,464.6" fill="#5fb0a6" />
<text x="47.8" y="464.3" font-family="Liberation Sans, sans-serif" font-weight="bold" font-size="3.8" fill="#eaf6f4" transform="rotate(6.4 47.8 464.3)" textLength="16.6" lengthAdjust="spacingAndGlyphs">SIEMENS</text>
<polygon points="67.0,463.2 78.0,464.4 78.0,467.0 67.0,465.8" fill="#6a7592" />
<rect x="32.1" y="447.6" width="2.3" height="3.2" fill="#f4f4f4" />
<rect x="36.2" y="448.1" width="2.3" height="3.2" fill="#f4f4f4" />
<rect x="51.8" y="450.3" width="4.6" height="2.3" fill="#f4f4f4" />
<polyline points="54.0,441.0 54.0,449.5" fill="none" stroke="#1a1c22" stroke-width="0.9" />
<circle cx="64.5" cy="451.3" r="2.6" fill="#101114" />
<rect x="73.0" y="444.6" width="5.0" height="1.7" fill="#101114" rx="0.8"/>
<polygon points="163.9,417.8 174.4,418.5 174.4,422.5 163.9,421.8" fill="#d5363c" />
<polygon points="185.9,420.0 207.4,421.4 207.4,425.0 185.9,423.6" fill="#d5363c" />
<polygon points="156.4,417.6 161.4,416.8 162.4,420.0 157.4,420.8" fill="#1b1b1d" />
<polygon points="209.9,419.5 214.9,418.5 215.4,423.0 210.4,424.0" fill="#1b1b1d" />
<polygon points="181.7,452.1 214.6,423.2 214.6,461.3 192.7,486.7 181.7,498.3" fill="#2a2b2f" />
<polygon points="185.7,471.7 195.0,463.6 195.0,478.6 185.7,487.9" fill="#4d5672" />
<polygon points="181.7,452.1 185.4,449.0 185.4,494.5 181.7,498.3" fill="#35373d" />
<rect x="198.6" y="447.0" width="1.6" height="4.0" fill="#141416" />
<rect x="198.6" y="465.0" width="1.6" height="4.0" fill="#141416" />
<rect x="206.6" y="438.0" width="1.6" height="4.0" fill="#141416" />
<rect x="206.6" y="455.0" width="1.6" height="4.0" fill="#141416" />
<polygon points="124.5,445.7 137.4,435.5 154.5,419.1 214.6,423.2 181.7,452.1" fill="#2b2c30" />
<polygon points="141.4,431.0 153.4,420.5 169.4,421.6 157.4,433.0" fill="#19191b" />
<polygon points="145.4,433.5 151.4,428.0 157.4,428.6 159.9,426.2 165.4,426.7 156.4,435.0" fill="#0c0c0d" />
<polygon points="171.4,436.0 184.4,423.5 202.4,424.8 190.4,438.0" fill="#19191b" />
<polygon points="176.4,438.5 182.4,433.0 188.4,433.6 190.9,431.2 196.4,431.7 187.4,440.0" fill="#0c0c0d" />
<polygon points="124.5,445.7 181.7,452.1 181.7,498.3 124.5,491.9" fill="#4a546f" />
<polygon points="124.5,445.7 181.7,452.1 181.7,454.5 124.5,448.1" fill="#5a6480" />
<polygon points="125.9,475.5 180.4,481.6 180.4,485.0 125.9,478.9" fill="#0e0e10" />
<polygon points="124.5,479.0 181.7,485.4 181.7,498.3 124.5,491.9" fill="#3d4660" />
<circle cx="131.4" cy="483.5" r="3.6" fill="#0d0d0f" />
<circle cx="132.0" cy="483.7" r="2.0" fill="#c5c7cc" />
<rect x="131.2" y="481.9" width="1.0" height="3.4" fill="#44474f" />
<circle cx="140.1" cy="484.6" r="3.6" fill="#0d0d0f" />
<circle cx="140.7" cy="484.8" r="2.0" fill="#c5c7cc" />
<rect x="139.9" y="483.0" width="1.0" height="3.4" fill="#44474f" />
<circle cx="148.8" cy="485.7" r="3.6" fill="#0d0d0f" />
<circle cx="149.4" cy="485.9" r="2.0" fill="#c5c7cc" />
<rect x="148.6" y="484.1" width="1.0" height="3.4" fill="#44474f" />
<circle cx="157.4" cy="486.8" r="3.6" fill="#0d0d0f" />
<circle cx="158.0" cy="487.0" r="2.0" fill="#c5c7cc" />
<rect x="157.2" y="485.2" width="1.0" height="3.4" fill="#44474f" />
<circle cx="166.7" cy="488.0" r="3.6" fill="#0d0d0f" />
<circle cx="167.3" cy="488.2" r="2.0" fill="#c5c7cc" />
<rect x="166.5" y="486.4" width="1.0" height="3.4" fill="#44474f" />
<circle cx="175.9" cy="489.1" r="3.6" fill="#0d0d0f" />
<circle cx="176.5" cy="489.3" r="2.0" fill="#c5c7cc" />
<rect x="175.7" y="487.5" width="1.0" height="3.4" fill="#44474f" />
<polygon points="143.6,472.6 161.5,474.6 161.5,478.6 143.6,476.6" fill="#5fb0a6" />
<text x="144.2" y="476.3" font-family="Liberation Sans, sans-serif" font-weight="bold" font-size="3.8" fill="#eaf6f4" transform="rotate(6.4 144.2 476.3)" textLength="16.6" lengthAdjust="spacingAndGlyphs">SIEMENS</text>
<polygon points="163.4,475.2 174.4,476.4 174.4,479.0 163.4,477.8" fill="#6a7592" />
<rect x="128.5" y="459.6" width="2.3" height="3.2" fill="#f4f4f4" />
<rect x="132.6" y="460.1" width="2.3" height="3.2" fill="#f4f4f4" />
<rect x="136.7" y="460.8" width="1.8" height="2.6" fill="#8c93a8" />
<rect x="140.0" y="461.1" width="1.8" height="2.6" fill="#8c93a8" />
<rect x="143.3" y="461.4" width="1.8" height="2.6" fill="#8c93a8" />
<rect x="148.2" y="462.3" width="4.6" height="2.3" fill="#f4f4f4" />
<polyline points="150.4,453.0 150.4,461.5" fill="none" stroke="#1a1c22" stroke-width="0.9" />
<rect x="169.4" y="456.6" width="5.0" height="1.7" fill="#101114" rx="0.8"/>
<polygon points="69.3,515.6 79.8,516.3 79.8,520.3 69.3,519.6" fill="#d5363c" />
<polygon points="91.3,517.8 112.8,519.2 112.8,522.8 91.3,521.4" fill="#d5363c" />
<polygon points="61.8,515.4 66.8,514.6 67.8,517.8 62.8,518.6" fill="#1b1b1d" />
<polygon points="115.3,517.3 120.3,516.3 120.8,520.8 115.8,521.8" fill="#1b1b1d" />
<polygon points="87.1,549.9 120.0,521.0 120.0,559.1 98.1,584.5 87.1,596.1" fill="#2a2b2f" />
<polygon points="91.1,569.5 100.4,561.4 100.4,576.4 91.1,585.7" fill="#4d5672" />
<polygon points="87.1,549.9 90.8,546.8 90.8,592.3 87.1,596.1" fill="#35373d" />
<rect x="104.0" y="544.8" width="1.6" height="4.0" fill="#141416" />
<rect x="104.0" y="562.8" width="1.6" height="4.0" fill="#141416" />
<rect x="112.0" y="535.8" width="1.6" height="4.0" fill="#141416" />
<rect x="112.0" y="552.8" width="1.6" height="4.0" fill="#141416" />
<polygon points="29.9,543.5 59.9,516.9 120.0,521.0 87.1,549.9" fill="#393b40" />
<polygon points="29.9,543.5 59.9,516.9 63.8,517.2 33.8,543.9" fill="#2e3035" />
<polygon points="29.9,543.5 87.1,549.9 87.1,596.1 29.9,589.7" fill="#4a546f" />
<polygon points="29.9,543.5 87.1,549.9 87.1,552.3 29.9,545.9" fill="#5a6480" />
<polygon points="31.3,573.3 85.8,579.4 85.8,582.8 31.3,576.7" fill="#0e0e10" />
<polygon points="29.9,576.8 87.1,583.2 87.1,596.1 29.9,589.7" fill="#3d4660" />
<circle cx="36.8" cy="581.3" r="3.6" fill="#0d0d0f" />
<circle cx="37.4" cy="581.5" r="2.0" fill="#c5c7cc" />
<rect x="36.6" y="579.7" width="1.0" height="3.4" fill="#44474f" />
<circle cx="45.5" cy="582.4" r="3.6" fill="#0d0d0f" />
<circle cx="46.1" cy="582.6" r="2.0" fill="#c5c7cc" />
<rect x="45.3" y="580.8" width="1.0" height="3.4" fill="#44474f" />
<circle cx="54.2" cy="583.5" r="3.6" fill="#0d0d0f" />
<circle cx="54.8" cy="583.7" r="2.0" fill="#c5c7cc" />
<rect x="54.0" y="581.9" width="1.0" height="3.4" fill="#44474f" />
<circle cx="62.8" cy="584.6" r="3.6" fill="#0d0d0f" />
<circle cx="63.4" cy="584.8" r="2.0" fill="#c5c7cc" />
<rect x="62.6" y="583.0" width="1.0" height="3.4" fill="#44474f" />
<circle cx="72.1" cy="585.8" r="3.6" fill="#0d0d0f" />
<circle cx="72.7" cy="586.0" r="2.0" fill="#c5c7cc" />
<rect x="71.9" y="584.2" width="1.0" height="3.4" fill="#44474f" />
<circle cx="81.3" cy="586.9" r="3.6" fill="#0d0d0f" />
<circle cx="81.9" cy="587.1" r="2.0" fill="#c5c7cc" />
<rect x="81.1" y="585.3" width="1.0" height="3.4" fill="#44474f" />
<polygon points="49.0,570.4 66.9,572.4 66.9,576.4 49.0,574.4" fill="#5fb0a6" />
<text x="49.6" y="574.1" font-family="Liberation Sans, sans-serif" font-weight="bold" font-size="3.8" fill="#eaf6f4" transform="rotate(6.4 49.6 574.1)" textLength="16.6" lengthAdjust="spacingAndGlyphs">SIEMENS</text>
<polygon points="68.8,573.0 79.8,574.2 79.8,576.8 68.8,575.6" fill="#6a7592" />
<rect x="53.6" y="560.3" width="4.6" height="2.3" fill="#f4f4f4" />
<polyline points="55.8,550.8 55.8,558.8" fill="none" stroke="#1a1c22" stroke-width="0.9" />
<circle cx="64.3" cy="558.3" r="3.4" fill="#2c3348" />
<circle cx="64.3" cy="558.3" r="2.2" fill="#4a5470" />
<circle cx="74.8" cy="561.8" r="4.0" fill="#2c3348" />
<circle cx="74.8" cy="561.8" r="2.7" fill="#4a5470" />
<rect x="72.8" y="554.3" width="4.5" height="1.6" fill="#101114" />
<polygon points="351.0,427.0 361.0,417.0 369.0,416.0 379.0,423.0 379.0,442.0 366.0,456.0 351.0,451.5" fill="#212123" />
<polygon points="351.0,427.0 361.0,417.0 369.0,416.0 379.0,423.0 367.0,433.5" fill="#2c2c2f" />
<polygon points="351.0,427.0 367.0,433.5 366.0,456.0 351.0,451.5" fill="#18181a" />
<circle cx="364.5" cy="457.0" r="1.6" fill="#141415" />
<polyline points="353.5,431.0 356.0,432.0" fill="none" stroke="#35363a" stroke-width="0.8" />
<polyline points="353.5,436.0 356.0,437.0" fill="none" stroke="#35363a" stroke-width="0.8" />
<polyline points="353.5,441.0 356.0,442.0" fill="none" stroke="#35363a" stroke-width="0.8" />
<polyline points="353.5,446.0 356.0,447.0" fill="none" stroke="#35363a" stroke-width="0.8" />
<polyline points="369.0,438.0 375.0,434.4" fill="none" stroke="#5a5c62" stroke-width="0.6" />
<polyline points="369.0,442.0 375.0,438.4" fill="none" stroke="#5a5c62" stroke-width="0.6" />
<polyline points="369.0,446.0 375.0,442.4" fill="none" stroke="#5a5c62" stroke-width="0.6" />
<rect x="9.8" y="627.8" width="29.4" height="21.0" fill="#e1ddd6" rx="1.2"/>
<rect x="9.8" y="627.8" width="29.4" height="21.0" fill="none" rx="1.2" stroke="#bdb9b0" stroke-width="0.8"/>
<rect x="11.4" y="629.4" width="26.4" height="5.4" fill="#2a2a2c" />
<rect x="11.4" y="634.8" width="26.4" height="1.4" fill="#8a8880" />
<polyline points="24.5,637.0 24.5,648.0" fill="none" stroke="#cfcbc2" stroke-width="0.8" />
<rect x="10.5" y="644.5" width="28.0" height="3.5" fill="#d8d4cb" />
<rect x="405.3" y="534.9" width="4.6" height="14.0" fill="#e9c0b2" />
<rect x="408.5" y="534.9" width="1.4" height="14.0" fill="#c08c7c" />
<ellipse cx="407.6" cy="535.2" rx="2.3" ry="1.0" fill="#f6e2db" />
<rect x="418.1" y="536.8" width="4.6" height="14.0" fill="#e9c0b2" />
<rect x="421.3" y="536.8" width="1.4" height="14.0" fill="#c08c7c" />
<ellipse cx="420.4" cy="537.1" rx="2.3" ry="1.0" fill="#f6e2db" />
<rect x="430.5" y="538.6" width="4.6" height="14.0" fill="#e9c0b2" />
<rect x="433.7" y="538.6" width="1.4" height="14.0" fill="#c08c7c" />
<ellipse cx="432.8" cy="538.9" rx="2.3" ry="1.0" fill="#f6e2db" />
<polygon points="401.6,549.0 406.0,546.0 411.0,546.6 411.0,550.0 415.0,550.5 415.0,547.6 419.0,548.0 424.0,548.6 424.0,552.2 428.0,552.7 428.0,550.0 436.0,551.0 438.8,553.5 438.8,562.5 434.0,563.5 431.6,564.9 431.6,576.9 410.0,590.0 390.8,586.5 390.8,572.0 404.0,564.6 401.6,562.5" fill="#1d1d1f" />
<polygon points="390.8,572.0 412.4,560.0 431.6,564.9 410.0,576.8" fill="#2d2d30" />
<polygon points="390.8,572.0 410.0,576.8 410.0,590.0 390.8,586.5" fill="#1a1a1c" />
<circle cx="399.5" cy="580.8" r="2.9" fill="#000" />
<circle cx="399.5" cy="580.8" r="2.9" fill="none" stroke="#3a3a3d" stroke-width="0.7"/>
<polygon points="508.9,509.7 516.5,502.8 572.6,509.7 563.7,517.9" fill="#717c9a" />
<polygon points="508.9,509.7 563.7,517.9 563.7,537.4 508.9,529.2" fill="#626d8c" />
<polygon points="563.7,517.9 572.6,509.7 572.6,528.6 563.7,537.4" fill="#535d7c" />
<polygon points="530.0,510.5 536.0,505.3 557.0,508.0 551.0,513.5" fill="#5a6483" />
<polyline points="521.0,513.5 529.0,506.0" fill="none" stroke="#3a4260" stroke-width="1.4" />
<polyline points="551.0,517.0 558.0,510.0" fill="none" stroke="#3a4260" stroke-width="1.4" />
<circle cx="518.4" cy="523.6" r="4.2" fill="#3b4360" />
<circle cx="518.4" cy="523.6" r="3.1" fill="#14161c" />
<circle cx="553.7" cy="528.2" r="4.2" fill="#3b4360" />
<circle cx="553.7" cy="528.2" r="3.1" fill="#14161c" />
<rect x="527.2" y="519.0" width="2.6" height="8.0" fill="#1c1f2a" />
<rect x="541.8" y="521.0" width="2.6" height="8.0" fill="#1c1f2a" />
<polyline points="521.5,492.7 523.5,507.0 528.4,525.0" fill="none" stroke="#3a3b40" stroke-width="2.0" stroke-linecap="round"/>
<polyline points="536.0,494.0 538.0,509.0 543.0,526.0" fill="none" stroke="#3a3b40" stroke-width="2.0" stroke-linecap="round"/>
<rect x="705.0" y="438.5" width="1.6" height="18.0" fill="#e3b5a6" />
<rect x="781.7" y="447.7" width="1.6" height="18.0" fill="#e3b5a6" />
<polygon points="650.8,450.0 707.4,455.8 708.6,454.7 731.7,457.0 732.8,459.3 791.8,466.2 791.8,482.0 650.8,465.0" fill="#1e1e20" />
<polygon points="650.8,450.0 707.4,455.8 708.6,454.7 731.7,457.0 732.8,459.3 791.8,466.2 791.8,468.2 732.8,461.3 731.7,459.0 708.6,456.7 707.4,457.8 650.8,452.0" fill="#303033" />
<rect x="651.8" y="477.8" width="5.0" height="17.0" fill="#dba796" />
<rect x="655.3" y="477.8" width="1.5" height="17.0" fill="#b07a6a" />
<rect x="651.8" y="477.8" width="1.2" height="17.0" fill="#f0cfc4" />
<ellipse cx="654.3" cy="478.1" rx="2.5" ry="1.1" fill="#f4dcd4" />
<rect x="674.4" y="480.6" width="5.0" height="17.0" fill="#dba796" />
<rect x="677.9" y="480.6" width="1.5" height="17.0" fill="#b07a6a" />
<rect x="674.4" y="480.6" width="1.2" height="17.0" fill="#f0cfc4" />
<ellipse cx="676.9" cy="480.9" rx="2.5" ry="1.1" fill="#f4dcd4" />
<rect x="696.8" y="483.6" width="5.0" height="17.0" fill="#dba796" />
<rect x="700.3" y="483.6" width="1.5" height="17.0" fill="#b07a6a" />
<rect x="696.8" y="483.6" width="1.2" height="17.0" fill="#f0cfc4" />
<ellipse cx="699.3" cy="483.9" rx="2.5" ry="1.1" fill="#f4dcd4" />
<rect x="735.0" y="488.2" width="5.0" height="17.0" fill="#dba796" />
<rect x="738.5" y="488.2" width="1.5" height="17.0" fill="#b07a6a" />
<rect x="735.0" y="488.2" width="1.2" height="17.0" fill="#f0cfc4" />
<ellipse cx="737.5" cy="488.5" rx="2.5" ry="1.1" fill="#f4dcd4" />
<rect x="757.6" y="490.5" width="5.0" height="17.0" fill="#dba796" />
<rect x="761.1" y="490.5" width="1.5" height="17.0" fill="#b07a6a" />
<rect x="757.6" y="490.5" width="1.2" height="17.0" fill="#f0cfc4" />
<ellipse cx="760.1" cy="490.8" rx="2.5" ry="1.1" fill="#f4dcd4" />
<rect x="780.0" y="494.0" width="5.0" height="17.0" fill="#dba796" />
<rect x="783.5" y="494.0" width="1.5" height="17.0" fill="#b07a6a" />
<rect x="780.0" y="494.0" width="1.2" height="17.0" fill="#f0cfc4" />
<ellipse cx="782.5" cy="494.3" rx="2.5" ry="1.1" fill="#f4dcd4" />
<polygon points="643.9,497.4 650.0,495.5 660.0,496.5 660.0,499.0 672.0,500.2 672.0,497.8 682.0,498.8 682.0,501.2 694.0,502.4 694.0,500.0 704.5,501.0 704.5,503.5 716.0,504.7 716.0,501.5 742.0,504.0 742.0,507.0 753.0,508.2 753.0,505.5 765.0,506.8 765.0,509.3 776.0,510.5 776.0,508.0 788.0,509.3 797.6,512.4 797.6,521.7 789.5,525.2 766.4,522.8 766.4,527.5 672.8,517.0 672.8,512.4 643.9,509.0" fill="#1d1d1f" />
<polyline points="644.0,498.2 797.0,513.2" fill="none" stroke="#2d2d30" stroke-width="1.0" />
<polygon points="493.3,317.8 520.8,320.5 520.8,328.8 493.3,326.0" fill="#afcddb" />
<polyline points="493.3,326.0 520.8,328.8" fill="none" stroke="#9dbccb" stroke-width="0.8" />
<path d="M419.4,200 L419.4,232" fill="none" stroke="#afcddb" stroke-width="6.5" />
<path d="M442.8,200 L442.8,223" fill="none" stroke="#afcddb" stroke-width="6.3" />
<path d="M468.6,205 L468.6,237" fill="none" stroke="#afcddb" stroke-width="6.5" />
<path d="M380,362.1 L413,329" fill="none" stroke="#afcddb" stroke-width="8.6" />
<polygon points="374.5,405.7 379.3,410.1 432.4,352.2 427.6,347.8" fill="#f3b466" />
<polygon points="430.1,337.6 441.0,339.6 432.9,360.1" fill="#f4b970" />
<text transform="translate(947,392) rotate(-90)" font-family='"Liberation Sans", Arial, sans-serif' font-weight="bold" font-size="8.6" fill="#222">IC01_00616d</text>
<circle cx="286.0" cy="10.0" r="9.4" fill="#b7d2de" stroke="#3b4750" stroke-width="1"/><text x="285.6" y="14.8" text-anchor="middle" font-family='"Liberation Sans", Arial, sans-serif' font-size="13.4" fill="#1c1c1c" letter-spacing="-0.9">12</text>
<circle cx="392.2" cy="32.9" r="9.4" fill="#b7d2de" stroke="#3b4750" stroke-width="1"/><text x="391.8" y="37.7" text-anchor="middle" font-family='"Liberation Sans", Arial, sans-serif' font-size="13.4" fill="#1c1c1c" letter-spacing="-0.9">13</text>
<circle cx="502.7" cy="54.2" r="9.4" fill="#b7d2de" stroke="#3b4750" stroke-width="1"/><text x="502.2" y="59.0" text-anchor="middle" font-family='"Liberation Sans", Arial, sans-serif' font-size="13.4" fill="#1c1c1c" letter-spacing="-0.9">14</text>
<circle cx="822.6" cy="159.7" r="9.4" fill="#b7d2de" stroke="#3b4750" stroke-width="1"/><text x="822.1" y="164.5" text-anchor="middle" font-family='"Liberation Sans", Arial, sans-serif' font-size="13.4" fill="#1c1c1c" letter-spacing="-0.9">16</text>
<circle cx="513.7" cy="201.4" r="9.4" fill="#fff" stroke="#3b4750" stroke-width="1"/><text x="513.7" y="206.4" text-anchor="middle" font-family='"Liberation Sans", Arial, sans-serif' font-size="14.0" fill="#1c1c1c">1</text>
<circle cx="577.5" cy="219.0" r="9.4" fill="#b7d2de" stroke="#3b4750" stroke-width="1"/><text x="577.0" y="223.8" text-anchor="middle" font-family='"Liberation Sans", Arial, sans-serif' font-size="13.4" fill="#1c1c1c" letter-spacing="-0.9">17</text>
<circle cx="751.2" cy="227.2" r="9.4" fill="#b7d2de" stroke="#3b4750" stroke-width="1"/><text x="750.8" y="232.0" text-anchor="middle" font-family='"Liberation Sans", Arial, sans-serif' font-size="13.4" fill="#1c1c1c" letter-spacing="-0.9">15</text>
<circle cx="599.5" cy="263.4" r="9.4" fill="#b7d2de" stroke="#3b4750" stroke-width="1"/><text x="599.0" y="268.2" text-anchor="middle" font-family='"Liberation Sans", Arial, sans-serif' font-size="13.4" fill="#1c1c1c" letter-spacing="-0.9">18</text>
<circle cx="857.0" cy="243.2" r="9.4" fill="#fff" stroke="#3b4750" stroke-width="1"/><text x="857.0" y="248.2" text-anchor="middle" font-family='"Liberation Sans", Arial, sans-serif' font-size="14.0" fill="#1c1c1c">1</text>
<circle cx="331.6" cy="241.5" r="9.4" fill="#b7d2de" stroke="#3b4750" stroke-width="1"/><text x="331.6" y="246.5" text-anchor="middle" font-family='"Liberation Sans", Arial, sans-serif' font-size="14.0" fill="#1c1c1c">2</text>
<circle cx="941.6" cy="301.2" r="9.4" fill="#b7d2de" stroke="#3b4750" stroke-width="1"/><text x="941.6" y="306.2" text-anchor="middle" font-family='"Liberation Sans", Arial, sans-serif' font-size="14.0" fill="#1c1c1c">2</text>
<circle cx="122.0" cy="311.0" r="9.4" fill="#b7d2de" stroke="#3b4750" stroke-width="1"/><text x="122.0" y="316.0" text-anchor="middle" font-family='"Liberation Sans", Arial, sans-serif' font-size="14.0" fill="#1c1c1c">3</text>
<circle cx="169.3" cy="315.6" r="9.4" fill="#b7d2de" stroke="#3b4750" stroke-width="1"/><text x="169.3" y="320.6" text-anchor="middle" font-family='"Liberation Sans", Arial, sans-serif' font-size="14.0" fill="#1c1c1c">4</text>
<circle cx="242.0" cy="325.0" r="9.4" fill="#b7d2de" stroke="#3b4750" stroke-width="1"/><text x="242.0" y="330.0" text-anchor="middle" font-family='"Liberation Sans", Arial, sans-serif' font-size="14.0" fill="#1c1c1c">5</text>
<circle cx="50.4" cy="394.0" r="9.4" fill="#b7d2de" stroke="#3b4750" stroke-width="1"/><text x="50.4" y="399.0" text-anchor="middle" font-family='"Liberation Sans", Arial, sans-serif' font-size="14.0" fill="#1c1c1c">6</text>
<circle cx="157.7" cy="404.6" r="9.4" fill="#b7d2de" stroke="#3b4750" stroke-width="1"/><text x="157.7" y="409.6" text-anchor="middle" font-family='"Liberation Sans", Arial, sans-serif' font-size="14.0" fill="#1c1c1c">7</text>
<circle cx="57.4" cy="501.8" r="9.4" fill="#f9d6aa" stroke="#3b4750" stroke-width="1"/><text x="57.4" y="506.8" text-anchor="middle" font-family='"Liberation Sans", Arial, sans-serif' font-size="14.0" fill="#1c1c1c">8</text>
<circle cx="341.6" cy="465.2" r="9.4" fill="#f9d6aa" stroke="#3b4750" stroke-width="1"/><text x="341.6" y="470.2" text-anchor="middle" font-family='"Liberation Sans", Arial, sans-serif' font-size="14.0" fill="#1c1c1c">9</text>
<circle cx="10.6" cy="613.8" r="9.4" fill="#b7d2de" stroke="#3b4750" stroke-width="1"/><text x="10.2" y="618.6" text-anchor="middle" font-family='"Liberation Sans", Arial, sans-serif' font-size="13.4" fill="#1c1c1c" letter-spacing="-0.9">10</text>
<circle cx="376.4" cy="593.2" r="9.4" fill="#b7d2de" stroke="#3b4750" stroke-width="1"/><text x="375.9" y="598.0" text-anchor="middle" font-family='"Liberation Sans", Arial, sans-serif' font-size="13.4" fill="#1c1c1c" letter-spacing="-0.9">11</text>
<circle cx="583.9" cy="498.7" r="9.4" fill="#b7d2de" stroke="#3b4750" stroke-width="1"/><text x="583.4" y="503.5" text-anchor="middle" font-family='"Liberation Sans", Arial, sans-serif' font-size="13.4" fill="#1c1c1c" letter-spacing="-0.9">14</text>
<circle cx="809.8" cy="494.4" r="9.4" fill="#b7d2de" stroke="#3b4750" stroke-width="1"/><text x="809.3" y="499.2" text-anchor="middle" font-family='"Liberation Sans", Arial, sans-serif' font-size="13.4" fill="#1c1c1c" letter-spacing="-0.9">16</text>
<circle cx="10.0" cy="678.4" r="8.3" fill="#fff" stroke="#3b4750" stroke-width="1"/><text x="10.0" y="683.4" text-anchor="middle" font-family='"Liberation Sans", Arial, sans-serif' font-size="14.0" fill="#1c1c1c">1</text>
<circle cx="10.0" cy="713.0" r="8.3" fill="#b7d2de" stroke="#3b4750" stroke-width="1"/><text x="10.0" y="718.0" text-anchor="middle" font-family='"Liberation Sans", Arial, sans-serif' font-size="14.0" fill="#1c1c1c">2</text>
<circle cx="10.0" cy="733.6" r="8.3" fill="#b7d2de" stroke="#3b4750" stroke-width="1"/><text x="10.0" y="738.6" text-anchor="middle" font-family='"Liberation Sans", Arial, sans-serif' font-size="14.0" fill="#1c1c1c">3</text>
<circle cx="10.0" cy="769.0" r="8.3" fill="#b7d2de" stroke="#3b4750" stroke-width="1"/><text x="10.0" y="774.0" text-anchor="middle" font-family='"Liberation Sans", Arial, sans-serif' font-size="14.0" fill="#1c1c1c">4</text>
<circle cx="10.0" cy="805.0" r="8.3" fill="#b7d2de" stroke="#3b4750" stroke-width="1"/><text x="10.0" y="810.0" text-anchor="middle" font-family='"Liberation Sans", Arial, sans-serif' font-size="14.0" fill="#1c1c1c">5</text>
<circle cx="10.0" cy="825.0" r="8.3" fill="#b7d2de" stroke="#3b4750" stroke-width="1"/><text x="10.0" y="830.0" text-anchor="middle" font-family='"Liberation Sans", Arial, sans-serif' font-size="14.0" fill="#1c1c1c">6</text>
<circle cx="10.0" cy="846.5" r="8.3" fill="#b7d2de" stroke="#3b4750" stroke-width="1"/><text x="10.0" y="851.5" text-anchor="middle" font-family='"Liberation Sans", Arial, sans-serif' font-size="14.0" fill="#1c1c1c">7</text>
<circle cx="10.0" cy="868.0" r="8.3" fill="#f9d6aa" stroke="#3b4750" stroke-width="1"/><text x="10.0" y="873.0" text-anchor="middle" font-family='"Liberation Sans", Arial, sans-serif' font-size="14.0" fill="#1c1c1c">8</text>
<circle cx="10.0" cy="887.6" r="8.3" fill="#f9d6aa" stroke="#3b4750" stroke-width="1"/><text x="10.0" y="892.6" text-anchor="middle" font-family='"Liberation Sans", Arial, sans-serif' font-size="14.0" fill="#1c1c1c">9</text>
<circle cx="10.0" cy="908.8" r="8.3" fill="#b7d2de" stroke="#3b4750" stroke-width="1"/><text x="9.6" y="913.4" text-anchor="middle" font-family='"Liberation Sans", Arial, sans-serif' font-size="12.7" fill="#1c1c1c" letter-spacing="-0.9">10</text>
<circle cx="10.0" cy="930.5" r="8.3" fill="#b7d2de" stroke="#3b4750" stroke-width="1"/><text x="9.6" y="935.1" text-anchor="middle" font-family='"Liberation Sans", Arial, sans-serif' font-size="12.7" fill="#1c1c1c" letter-spacing="-0.9">11</text>
<circle cx="10.0" cy="952.0" r="8.3" fill="#b7d2de" stroke="#3b4750" stroke-width="1"/><text x="9.6" y="956.6" text-anchor="middle" font-family='"Liberation Sans", Arial, sans-serif' font-size="12.7" fill="#1c1c1c" letter-spacing="-0.9">12</text>
<circle cx="10.0" cy="975.0" r="8.3" fill="#b7d2de" stroke="#3b4750" stroke-width="1"/><text x="9.6" y="979.6" text-anchor="middle" font-family='"Liberation Sans", Arial, sans-serif' font-size="12.7" fill="#1c1c1c" letter-spacing="-0.9">13</text>
<circle cx="508.0" cy="712.7" r="8.3" fill="#b7d2de" stroke="#3b4750" stroke-width="1"/><text x="507.6" y="717.3" text-anchor="middle" font-family='"Liberation Sans", Arial, sans-serif' font-size="12.7" fill="#1c1c1c" letter-spacing="-0.9">14</text>
<circle cx="507.6" cy="733.4" r="8.3" fill="#b7d2de" stroke="#3b4750" stroke-width="1"/><text x="507.2" y="738.0" text-anchor="middle" font-family='"Liberation Sans", Arial, sans-serif' font-size="12.7" fill="#1c1c1c" letter-spacing="-0.9">15</text>
<circle cx="535.4" cy="794.6" r="8.3" fill="#b7d2de" stroke="#3b4750" stroke-width="1"/><text x="534.9" y="799.2" text-anchor="middle" font-family='"Liberation Sans", Arial, sans-serif' font-size="12.7" fill="#1c1c1c" letter-spacing="-0.9">16</text>
<circle cx="535.4" cy="848.3" r="8.3" fill="#b7d2de" stroke="#3b4750" stroke-width="1"/><text x="534.9" y="852.9" text-anchor="middle" font-family='"Liberation Sans", Arial, sans-serif' font-size="12.7" fill="#1c1c1c" letter-spacing="-0.9">17</text>
<circle cx="508.0" cy="895.4" r="8.3" fill="#b7d2de" stroke="#3b4750" stroke-width="1"/><text x="507.6" y="900.0" text-anchor="middle" font-family='"Liberation Sans", Arial, sans-serif' font-size="12.7" fill="#1c1c1c" letter-spacing="-0.9">18</text>
<circle cx="507.0" cy="961.7" r="8.8" fill="#f9d6aa" stroke="#3b4750" stroke-width="1"/>
<circle cx="507.0" cy="984.4" r="8.8" fill="#b7d2de" stroke="#3b4750" stroke-width="1"/>
<text class="lg" x="24.7" y="682.7">Schütz, Baugröße S2</text>
<text class="lg" x="24.7" y="716.7">2-poliger Hilfsschalter, seitlich anbaubar</text>
<text class="lg" x="24.7" y="737.6">1-poliger Hilfsschalter, frontseitig aufschnappbar,</text>
<text class="lg" x="24.7" y="752.0">Leitungseinführung von oben</text>
<text class="lg" x="24.7" y="773.4">2-poliger Hilfsschalter, frontseitig aufschnappbar,</text>
<text class="lg" x="24.7" y="787.3">Leitungseinführung von unten</text>
<text class="lg" x="24.7" y="808.7">4-poliger Hilfsschalter, frontseitig aufschnappbar</text>
<text class="lg" x="25.2" y="829.7">Funktionsmodul 3RA27 für AS-Interface</text>
<text class="lg" x="27.0" y="850.3">Funktionsmodul 3RA27 für IO-Link</text>
<text class="lg" x="27.0" y="869.7">Funktionsmodul 3RA28</text>
<text class="lg" x="27.0" y="892.0">Überspannungsbegrenzer mit/ohne LED</text>
<text class="lg" x="27.0" y="913.4">Abdeckung plombierbar</text>
<text class="lg" x="27.0" y="935.3">Parallelschaltverbindung, 3-polig, mit Anschlussklemme</text>
<text class="lg" x="27.0" y="956.2">3-Phasen-Einspeiseklemme</text>
<text class="lg" x="27.0" y="980.0">Parallelschaltverbindung (Sternpunktbrücke), 3-polig,</text>
<text class="lg" x="27.0" y="993.3">ohne Anschlussklemme</text>
<text class="lg" x="526.0" y="716.5">Spulenanschlussmodul, oben oder unten</text>
<text class="lg" x="524.5" y="738.0">Safety Hauptstromverbinder für zwei Schütze</text>
<text class="lg" x="499.6" y="763.0">Bausatz 3RA2933-2AA1</text>
<text class="lg" x="499.6" y="777.7">bestehend aus:</text>
<text class="lg" x="549.0" y="798.4">Verdrahtungsbausteine oben und unten zur Verbindung</text>
<text class="lg" x="549.0" y="815.3">der Hauptstrombahnen mit elektrischer Verriegelung</text>
<text class="lg" x="549.0" y="832.0">(Öffnerverriegelung)</text>
<text class="lg" x="553.0" y="852.6">Zwei Verbinder für zwei Schütze</text>
<text class="lg" x="499.6" y="880.2">Getrennt zu bestellen:</text>
<text class="lg" x="524.5" y="899.7">Mechanische Verriegelung</text>
<text class="lg" x="524.5" y="965.5">für Schütze</text>
<text class="lg" x="524.5" y="988.6">für Schütze und Koppelschütze</text>
</svg>
</body></html>
